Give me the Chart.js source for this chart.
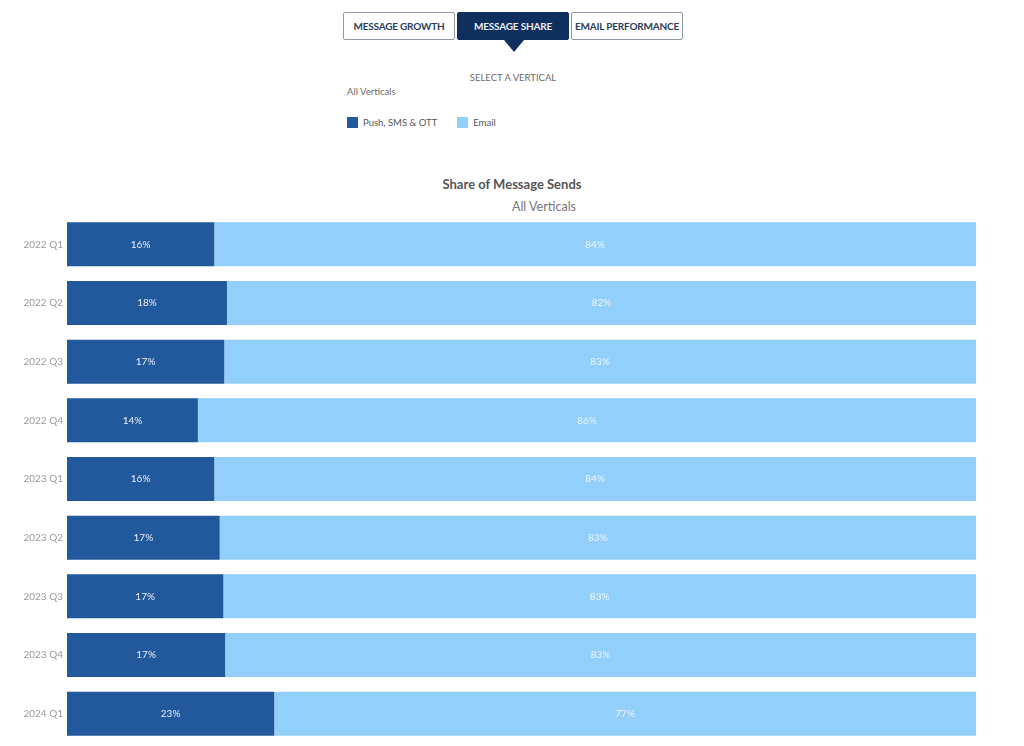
<!DOCTYPE html>
<html>
<head>
<meta charset="utf-8">
<script src="https://cdn.jsdelivr.net/npm/chart.js@4"></script>
<style>
  body { margin: 0; background: #fff; font-family: Lato, "Noto Sans", sans-serif; }
  #page { position: relative; width: 1024px; height: 746px; overflow: hidden; }
  .tab {
    position: absolute; top: 12px; height: 28px; width: 112px; box-sizing: border-box;
    border: 1px solid #8f98a8; border-radius: 2px; background: #fff;
    color: #2c3e5c; font-size: 10px; font-weight: bold; letter-spacing: -0.2px;
    display: flex; align-items: center; justify-content: center;
  }
  .tab.active { background: #0f2f5f; border-color: #0f2f5f; color: #e9eef6; }
  .tab.active:after {
    content: ""; position: absolute; left: 46px; top: 27px;
    border-left: 10px solid transparent; border-right: 10px solid transparent;
    border-top: 12px solid #0f2f5f;
  }
  .txt { position: absolute; color: #6b6b6b; font-size: 9.5px; }
  #legend { position: absolute; left: 347px; top: 117px; display: flex; font-size: 9.5px; color: #555; }
  #legend .item { display: flex; align-items: center; margin-right: 20px; }
  #legend .sw { width: 11px; height: 11px; margin-right: 5px; }
  #title { position: absolute; left: 0; width: 1024px; top: 176px; text-align: center; font-size: 13px; font-weight: bold; color: #555; }
  #wrap { position: absolute; left: 0; top: 205px; width: 1024px; height: 548px; }
</style>
</head>
<body>
<div id="page">
  <div class="tab" style="left:343px">MESSAGE GROWTH</div>
  <div class="tab active" style="left:457px">MESSAGE SHARE</div>
  <div class="tab" style="left:571px">EMAIL PERFORMANCE</div>
  <div class="txt" style="left:0;width:1026px;text-align:center;top:72px">SELECT A VERTICAL</div>
  <div class="txt" style="left:347px;top:86px">All Verticals</div>
  <div id="legend"></div>
  <div id="title">Share of Message Sends</div>
  <div class="txt" style="left:0;width:1088px;text-align:center;top:199px;font-size:12.5px;color:#777">All Verticals</div>
  <div id="wrap"><canvas id="chart"></canvas></div>
</div>
<script>
// quarters, top to bottom
const quarters = ['2022 Q1', '2022 Q2', '2022 Q3', '2022 Q4', '2023 Q1', '2023 Q2', '2023 Q3', '2023 Q4', '2024 Q1'];
// share of sends, %
const pushSmsOtt = [16.2, 17.6, 17.3, 14.4, 16.2, 16.8, 17.2, 17.4, 22.8];
const email = [83.8, 82.4, 82.7, 85.6, 83.8, 83.2, 82.8, 82.6, 77.2];

const seriesNames = ['Push, SMS & OTT', 'Email'];
const seriesColors = ['#22599d', '#92cffb'];
const labelColors = ['#e8eef8', '#eaf5ff'];

// legend
const legend = document.getElementById('legend');
seriesNames.forEach((name, i) => {
    const item = document.createElement('div');
    item.className = 'item';
    item.innerHTML = `<span class="sw" style="background:${seriesColors[i]}"></span>${name}`;
    legend.appendChild(item);
});

// percent labels in the middle of each bar
const barLabels = {
    id: 'barLabels',
    afterDatasetsDraw(chart) {
        const ctx = chart.ctx;
        ctx.save();
        ctx.font = '10px Lato, "Noto Sans", sans-serif';
        ctx.textAlign = 'center';
        ctx.textBaseline = 'middle';
        chart.data.datasets.forEach((ds, di) => {
            ctx.fillStyle = labelColors[di];
            chart.getDatasetMeta(di).data.forEach((bar, i) => {
                const x = (bar.x + bar.base) / 2;
                ctx.fillText(Math.round(ds.data[i]) + '%', x, bar.y);
            });
        });
        ctx.restore();
    }
};

new Chart(document.getElementById('chart'), {
    type: 'bar',
    data: {
        labels: quarters,
        datasets: [{
            label: seriesNames[0],
            data: pushSmsOtt,
            backgroundColor: seriesColors[0],
            barPercentage: 0.75,
            categoryPercentage: 1
        }, {
            label: seriesNames[1],
            data: email,
            backgroundColor: seriesColors[1],
            barPercentage: 0.75,
            categoryPercentage: 1
        }]
    },
    options: {
        indexAxis: 'y',
        responsive: true,
        maintainAspectRatio: false,
        animation: false,
        layout: { padding: { left: 0, right: 48, top: 0, bottom: 0 } },
        plugins: {
            legend: { display: false },
            tooltip: { enabled: false }
        },
        scales: {
            x: {
                stacked: true,
                min: 0,
                max: 100,
                display: false
            },
            y: {
                stacked: true,
                grid: { display: false, drawTicks: false },
                border: { display: false },
                afterFit: (axis) => { axis.width = 67; },
                ticks: {
                    color: '#9a9a9a',
                    padding: 4,
                    font: { family: 'Lato, "Noto Sans", sans-serif', size: 10 }
                }
            }
        }
    },
    plugins: [barLabels]
});
</script>
</body>
</html>
